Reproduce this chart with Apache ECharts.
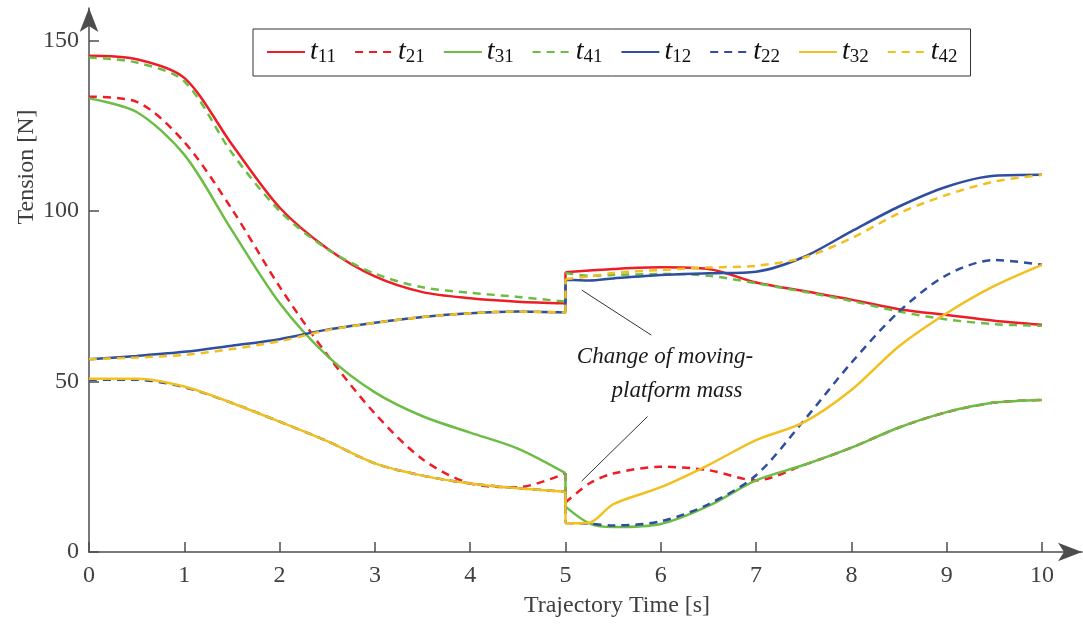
<!DOCTYPE html>
<html>
<head>
<meta charset="utf-8">
<script src="https://cdn.jsdelivr.net/npm/echarts@6/dist/echarts.min.js"></script>
<style>
  html, body { margin: 0; padding: 0; background: #fff; }
  #main { width: 1083px; height: 625px; }
</style>
</head>
<body>
<div id="main"></div>
<script>
// trajectory time [s]; 5 appears twice: just before and just after the mass change
var time = [0, 0.5, 1, 1.5, 2, 2.5, 3, 3.5, 4, 4.5, 5, 5, 5.25, 5.5, 6, 6.5, 7, 7.5, 8, 8.5, 9, 9.5, 10];
var jumpAt = 10;

// cable tensions [N]
var t11 = [145.5, 144.5, 139, 119.5, 101, 89, 80.8, 76.2, 74.4, 73.4, 72.9, 82, 82.5, 83, 83.5, 83, 79, 76.5, 74, 71.2, 69.5, 67.8, 66.6];
var t21 = [133.5, 132, 120.2, 100.5, 77.8, 57.8, 40.6, 27.2, 20.1, 19, 23.1, 14.5, 20.1, 23, 25, 24, 21, 25.5, 30.6, 36.5, 41, 43.8, 44.6];
var t31 = [133, 129, 116.5, 94.3, 73, 57.5, 46.8, 39.8, 35, 30.3, 23.1, 13.3, 8.4, 7.3, 8.2, 13.5, 21, 25.5, 30.6, 36.5, 41, 43.8, 44.6];
var t41 = [145, 143.5, 138, 117, 100, 88.8, 81.6, 77.6, 76, 74.8, 73.4, 81.8, 81, 81.2, 81.5, 81, 78.8, 76.3, 73.6, 70.5, 68.2, 66.8, 66.3];
var t12 = [56.5, 57.5, 58.7, 60.5, 62.4, 65.2, 67.2, 68.9, 70, 70.5, 70.2, 79.8, 79.6, 80.2, 81.2, 81.7, 82.2, 86.5, 94, 101.3, 107.1, 110.3, 110.6];
var t22 = [50.5, 50.5, 48.3, 43.7, 38.2, 32.5, 26, 22.4, 20.1, 18.7, 17.7, 8.5, 8.3, 7.8, 9, 14, 22.5, 38.5, 55.5, 70.5, 81.2, 85.6, 84.2];
var t32 = [50.8, 50.8, 48.5, 43.7, 38.2, 32.5, 26, 22.4, 20.1, 18.7, 17.7, 8.4, 8.6, 14, 19, 25.5, 32.8, 38, 47.5, 60.3, 70, 78, 84.2];
var t42 = [56.5, 57, 57.8, 59.5, 61.8, 65, 67.2, 68.9, 70, 70.5, 70.2, 80, 80.8, 81.8, 82.7, 83.4, 83.9, 86.3, 92, 99.3, 104.7, 108.6, 110.6];

var xTicks = [0, 1, 2, 3, 4, 5, 6, 7, 8, 9, 10];
var yTicks = [0, 50, 100, 150];

// leader lines of the annotation, in data coordinates
var notes = [[[5.17, 76.8], [5.90, 63.6]], [[5.86, 39.7], [5.17, 20.8]]];

var RED = '#ee1c25', GREEN = '#6cbd45', BLUE = '#2f4e9f', YELLOW = '#f2c01e';
var AXIS = '#4d4d4d';
var SERIF = '"Liberation Serif", "DejaVu Serif", serif';

// smooth each side of the jump separately, join them with a straight vertical piece
function build(vals) {
    var d = [];
    for (var i = 0; i < time.length; i++) {
        if (i === jumpAt + 1) {
            d.push([time[i], '-']);
            d.push([time[jumpAt], vals[jumpAt]]);
            d.push([time[i], vals[i]]);
            d.push([time[i], '-']);
        }
        d.push([time[i], vals[i]]);
    }
    return d;
}

function line(name, vals, color, dashed) {
    return {
        name: name,
        type: 'line',
        data: build(vals),
        smooth: 0.3,
        symbol: 'none',
        showSymbol: false,
        connectNulls: false,
        lineStyle: { color: color, width: 2.5, type: dashed ? [8, 6] : 'solid' },
        itemStyle: { color: color },
        emphasis: { disabled: true }
    };
}

var series = [
    line('t11', t11, RED, false),
    line('t21', t21, RED, true),
    line('t31', t31, GREEN, false),
    line('t41', t41, GREEN, true),
    line('t12', t12, BLUE, false),
    line('t22', t22, BLUE, true),
    line('t32', t32, YELLOW, false),
    line('t42', t42, YELLOW, true)
];

series[0].markLine = {
    silent: true,
    symbol: 'none',
    label: { show: false },
    lineStyle: { color: '#333', width: 1, type: 'solid' },
    data: notes.map(function (n) {
        return [{ coord: n[0] }, { coord: n[1] }];
    })
};

var myChart = echarts.init(document.getElementById('main'));

var option = {
    animation: false,
    backgroundColor: '#fff',
    grid: { left: 89, right: 1, top: 8, bottom: 73 },
    legend: {
        data: ['t11', 't21', 't31', 't41', 't12', 't22', 't32', 't42'],
        left: 253,
        top: 29,
        padding: [9, 13, 9, 13],
        itemWidth: 38,
        itemHeight: 14,
        itemGap: 18,
        borderColor: '#333',
        borderWidth: 1,
        backgroundColor: '#fff',
        itemStyle: { color: 'rgba(0,0,0,0)', borderWidth: 0, opacity: 0 },
        formatter: function (name) {
            return '{i|t}{s|' + name.slice(1) + '}';
        },
        textStyle: {
            fontFamily: SERIF,
            color: '#111',
            rich: {
                i: { fontFamily: SERIF, fontStyle: 'italic', fontSize: 28, color: '#111' },
                s: { fontFamily: SERIF, fontSize: 19, color: '#111', padding: [11, 0, 0, 0] }
            }
        }
    },
    xAxis: {
        type: 'value',
        min: 0,
        max: 10.42,
        splitLine: { show: false },
        axisLine: {
            show: true,
            onZero: false,
            symbol: ['none', 'arrow'],
            symbolSize: [14, 24],
            lineStyle: { color: AXIS, width: 1.5 }
        },
        axisTick: { show: true, inside: true, length: 10, customValues: xTicks, lineStyle: { color: AXIS, width: 1.5 } },
        axisLabel: { customValues: xTicks, fontFamily: SERIF, fontSize: 24, color: '#404040', margin: 12 }
    },
    yAxis: {
        type: 'value',
        min: 0,
        max: 159.5,
        splitLine: { show: false },
        axisLine: {
            show: true,
            onZero: false,
            symbol: ['none', 'arrow'],
            symbolSize: [14, 24],
            lineStyle: { color: AXIS, width: 1.5 }
        },
        axisTick: { show: true, inside: true, length: 10, customValues: yTicks, lineStyle: { color: AXIS, width: 1.5 } },
        axisLabel: { customValues: yTicks, fontFamily: SERIF, fontSize: 24, color: '#404040', margin: 10 }
    },
    graphic: [
        {
            type: 'text', x: 617, y: 606,
            style: { text: 'Trajectory Time [s]', font: '24px ' + SERIF, fill: '#404040', textAlign: 'center', textVerticalAlign: 'middle' }
        },
        {
            type: 'text', x: 27, y: 167, rotation: Math.PI / 2,
            style: { text: 'Tension [N]', font: '24px ' + SERIF, fill: '#404040', textAlign: 'center', textVerticalAlign: 'middle' }
        },
        {
            type: 'text', x: 665, y: 357,
            style: { text: 'Change of moving-', font: 'italic 23px ' + SERIF, fill: '#1a1a1a', textAlign: 'center', textVerticalAlign: 'middle' }
        },
        {
            type: 'text', x: 677, y: 391,
            style: { text: 'platform mass', font: 'italic 23px ' + SERIF, fill: '#1a1a1a', textAlign: 'center', textVerticalAlign: 'middle' }
        }
    ],
    series: series
};

myChart.setOption(option);
</script>
</body>
</html>
